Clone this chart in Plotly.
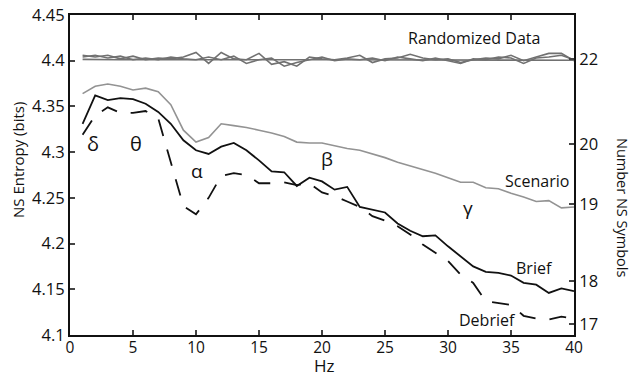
import plotly.graph_objects as go

hz = list(range(1, 41))

scenario = [4.364, 4.372, 4.3745, 4.372, 4.368, 4.370, 4.366, 4.352, 4.324, 4.311,
            4.316, 4.331, 4.329, 4.327, 4.324, 4.321, 4.317, 4.311, 4.310, 4.310,
            4.307, 4.304, 4.302, 4.298, 4.294, 4.289, 4.285, 4.281, 4.277, 4.272,
            4.267, 4.267, 4.261, 4.260, 4.255, 4.251, 4.246, 4.247, 4.239, 4.240]

brief = [4.331, 4.362, 4.357, 4.359, 4.358, 4.353, 4.344, 4.331, 4.313, 4.302,
         4.298, 4.306, 4.310, 4.302, 4.291, 4.279, 4.278, 4.263, 4.272, 4.268,
         4.259, 4.262, 4.240, 4.237, 4.234, 4.222, 4.214, 4.208, 4.209, 4.197,
         4.186, 4.175, 4.169, 4.168, 4.165, 4.157, 4.155, 4.146, 4.151, 4.148]

debrief = [4.319, 4.340, 4.349, 4.343, 4.343, 4.345, 4.337, 4.290, 4.241, 4.232,
           4.250, 4.274, 4.277, 4.275, 4.266, 4.266, 4.267, 4.264, 4.266, 4.256,
           4.252, 4.246, 4.240, 4.230, 4.225, 4.219, 4.210, 4.199, 4.190, 4.181,
           4.166, 4.157, 4.137, 4.135, 4.133, 4.121, 4.118, 4.117, 4.120, 4.118]

rand1 = [4.4015, 4.4012, 4.4013, 4.4010, 4.4012, 4.4010, 4.4011, 4.4010, 4.4011, 4.4010,
         4.4010, 4.4011, 4.4010, 4.4010, 4.4011, 4.4010, 4.4010, 4.4009, 4.4010, 4.4010,
         4.4010, 4.4009, 4.4010, 4.4009, 4.4010, 4.4009, 4.4009, 4.4010, 4.4009, 4.4009,
         4.4008, 4.4009, 4.4008, 4.4008, 4.4009, 4.4008, 4.4008, 4.4007, 4.4008, 4.4005]

rand2 = [4.406, 4.404, 4.406, 4.402, 4.405, 4.401, 4.403, 4.402, 4.404, 4.409,
         4.397, 4.409, 4.402, 4.401, 4.408, 4.396, 4.399, 4.394, 4.404, 4.402,
         4.401, 4.403, 4.406, 4.398, 4.402, 4.403, 4.407, 4.403, 4.401, 4.402,
         4.398, 4.401, 4.403, 4.402, 4.406, 4.400, 4.404, 4.408, 4.408, 4.400]

rand3 = [4.404, 4.406, 4.403, 4.405, 4.401, 4.403, 4.401, 4.404, 4.402, 4.401,
         4.404, 4.401, 4.405, 4.397, 4.401, 4.403, 4.394, 4.398, 4.401, 4.404,
         4.400, 4.402, 4.401, 4.403, 4.400, 4.404, 4.402, 4.400, 4.403, 4.400,
         4.397, 4.402, 4.401, 4.404, 4.403, 4.397, 4.403, 4.404, 4.406, 4.401]

left_ticks = [4.1, 4.15, 4.2, 4.25, 4.3, 4.35, 4.4, 4.45]
left_labels = ["4.1", "4.15", "4.2", "4.25", "4.3", "4.35", "4.4", "4.45"]
x_ticks = [0, 5, 10, 15, 20, 25, 30, 35, 40]
right_labels = ["22", "20", "19", "18", "17"]
right_pos = [4.402, 4.309, 4.243, 4.159, 4.112]

FONT = "Open Sans"
fig = go.Figure()

for r in (rand1, rand2, rand3):
    fig.add_trace(go.Scatter(x=hz, y=r, mode="lines",
                             line=dict(color="#717171", width=1.6), showlegend=False))
fig.add_trace(go.Scatter(x=hz, y=scenario, mode="lines",
                         line=dict(color="#939393", width=1.6), showlegend=False))
fig.add_trace(go.Scatter(x=hz, y=brief, mode="lines",
                         line=dict(color="#111111", width=1.8), showlegend=False))
fig.add_trace(go.Scatter(x=hz, y=debrief, mode="lines",
                         line=dict(color="#111111", width=1.8, dash="17px,14px"), showlegend=False))
fig.add_trace(go.Scatter(x=[None], y=[None], yaxis="y2", showlegend=False))

ann = [
    ("Randomized Data", 32.1, 4.425, 16),
    ("Scenario", 37.1, 4.2684, 16),
    ("Brief", 36.9, 4.1733, 16),
    ("Debrief", 33.1, 4.1164, 16),
    ("δ", 1.8, 4.310, 20),
    ("θ", 5.24, 4.310, 20),
    ("α", 10.05, 4.2797, 19),
    ("β", 20.4, 4.2922, 19),
    ("γ", 31.6, 4.2386, 19),
]
for t, x, y, s in ann:
    fig.add_annotation(x=x, y=y, text=t, showarrow=False,
                       font=dict(family=FONT, size=s, color="#111"))

# axis titles as positioned text
fig.add_annotation(xref="paper", yref="paper", x=(623 - 70) / 504, y=(335 - 207) / 320,
                   text="Number NS Symbols", textangle=90, showarrow=False,
                   xanchor="center", yanchor="middle",
                   font=dict(family=FONT, size=14.5, color="#111"))
fig.add_annotation(xref="paper", yref="paper", x=(18 - 70) / 504, y=(335 - 160) / 320,
                   text="NS Entropy (bits)", textangle=-90, showarrow=False,
                   xanchor="center", yanchor="middle",
                   font=dict(family=FONT, size=15, color="#111"))
fig.add_annotation(xref="paper", yref="paper", x=(324 - 70) / 504, y=(335 - 365) / 320,
                   text="Hz", showarrow=False, xanchor="center", yanchor="middle",
                   font=dict(family=FONT, size=17, color="#111"))

fig.update_layout(
    width=633, height=375,
    margin=dict(l=70, r=59, t=15, b=40, autoexpand=False),
    paper_bgcolor="white", plot_bgcolor="white",
    font=dict(family=FONT, size=16.5, color="#111"),
    xaxis=dict(range=[0, 40], tickvals=x_ticks, ticks="inside", ticklen=5, tickwidth=1.5,
               tickfont=dict(size=15.5), ticklabelstandoff=-3,
               showline=True, linecolor="#111", linewidth=2, mirror="ticks",
               showgrid=False, zeroline=False, automargin=False),
    yaxis=dict(range=[4.1, 4.45], tickvals=left_ticks, ticktext=left_labels,
               ticks="inside", ticklen=5, tickwidth=1.5,
               showline=True, linecolor="#111", linewidth=2, mirror=False,
               showgrid=False, zeroline=False, automargin=False),
    yaxis2=dict(range=[4.1, 4.45], overlaying="y", side="right",
                tickvals=right_pos, ticktext=right_labels,
                ticks="inside", ticklen=5, tickwidth=1.5,
                showline=True, linecolor="#111", linewidth=2,
                showgrid=False, zeroline=False, automargin=False),
)

fig.write_html("out.html", config={"displayModeBar": False},
               post_script="document.body.style.margin='0';")
